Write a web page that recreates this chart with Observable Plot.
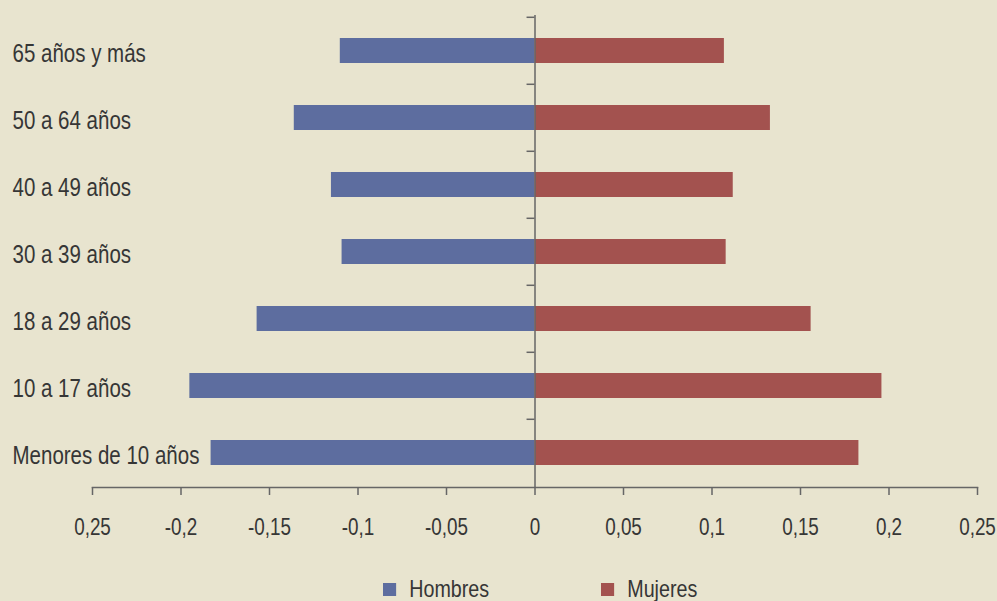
<!DOCTYPE html>
<html><head><meta charset="utf-8">
<script src="https://cdn.jsdelivr.net/npm/d3@7"></script>
<script src="https://cdn.jsdelivr.net/npm/@observablehq/plot@0.6"></script>
<style>
html,body{margin:0;padding:0;background:#e8e4cf;}
#wrap{position:relative;width:997px;height:601px;overflow:hidden;font-family:"Liberation Sans Narrow","Arial Narrow","Liberation Sans",sans-serif;color:#363636;}
.leg{position:absolute;top:577px;height:24px;line-height:24px;display:flex;align-items:center;font-size:24px;transform:scaleX(0.82);transform-origin:left center;white-space:nowrap;}
.sw{width:16px;height:13px;margin-right:16px;}
</style></head><body><div id="wrap"></div>
<script>
const ages = ["65 años y más","50 a 64 años","40 a 49 años","30 a 39 años","18 a 29 años","10 a 17 años","Menores de 10 años"];
const hombres = [0.110, 0.136, 0.115, 0.109, 0.157, 0.195, 0.183];
const mujeres = [0.107, 0.133, 0.112, 0.108, 0.156, 0.196, 0.183];
const series = ["Hombres","Mujeres"];
const colors = ["#5d6d9f","#a3524f"];
const xTicks = [-0.25,-0.2,-0.15,-0.1,-0.05,0,0.05,0.1,0.15,0.2,0.25];
const xTickLabels = ["0,25","-0,2","-0,15","-0,1","-0,05","0","0,05","0,1","0,15","0,2","0,25"];

const rows = [];
ages.forEach((a,i)=>{
  rows.push({age:a, sex:"Hombres", value:-hombres[i]});
  rows.push({age:a, sex:"Mujeres", value:mujeres[i]});
});

const H = 560, MT = 15, MB = 73;
const step = (H - MT - MB) / ages.length;
const axisColor = "#666";

const chart = Plot.plot({
  width: 997, height: H,
  marginLeft: 92, marginRight: 20, marginTop: MT, marginBottom: MB,
  style: {background:"transparent", fontFamily:"'Liberation Sans Narrow','Arial Narrow','Liberation Sans',sans-serif", fontSize:"23px", color:"#363636"},
  x: {domain:[-0.25,0.25], axis:null},
  y: {domain: ages, axis:null, padding:0},
  color: {domain: series, range: colors},
  marks: [
    Plot.barX(rows, {x:"value", y:"age", fill:"sex", insetTop:21, insetBottom:21}),
    Plot.ruleX([0], {stroke:axisColor, strokeWidth:1.5}),
    Plot.ruleY(ages, {y:d=>d, x1:-0.0045, x2:0, dy:-step/2, stroke:axisColor, strokeWidth:1.5}),
    Plot.frame({anchor:"bottom", stroke:axisColor, strokeWidth:1.5}),
    Plot.axisX({ticks:xTicks, tickFormat:(d,i)=>xTickLabels[i], tickSize:8, tickPadding:23, stroke:axisColor, strokeWidth:1.5, fontSize:23, fill:"#363636", label:null}),
    Plot.text(ages, {y:d=>d, text:d=>d, frameAnchor:"left", dx:-80, textAnchor:"start", fontSize:25, fill:"#363636", dy:3})
  ]
});
// condense the glyphs (the original uses a narrow typeface)
chart.querySelectorAll("text").forEach(t => {
  const tr = t.getAttribute("transform") || "";
  t.setAttribute("transform", (tr + " scale(0.82,1)").trim());
});
const wrap = document.getElementById("wrap");
wrap.appendChild(chart);
const legPos = [383, 601];
series.forEach((s,i)=>{
  const d = document.createElement("div");
  d.className = "leg";
  d.style.left = legPos[i] + "px";
  d.innerHTML = `<span class="sw" style="background:${colors[i]}"></span><span>${s}</span>`;
  wrap.appendChild(d);
});
</script>
</body></html>
